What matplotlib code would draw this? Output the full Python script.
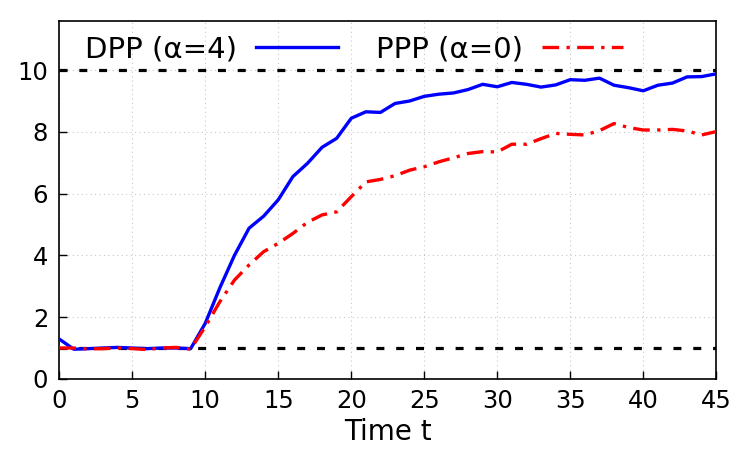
import matplotlib
matplotlib.use("Agg")
import matplotlib.pyplot as plt
import numpy as np

t = list(range(46))
dpp = [1.29, 0.96, 0.98, 1.0, 1.02, 1.0, 0.98, 1.0, 1.0, 0.98,
       1.8, 2.95, 4.0, 4.88, 5.27, 5.8, 6.55, 6.98, 7.5, 7.79,
       8.44, 8.65, 8.63, 8.92, 9.0, 9.15, 9.22, 9.26, 9.37, 9.54,
       9.46, 9.6, 9.54, 9.45, 9.52, 9.69, 9.67, 9.74, 9.51, 9.43,
       9.33, 9.51, 9.58, 9.78, 9.79, 9.88]
ppp = [1.0, 1.0, 0.97, 0.98, 1.0, 0.98, 0.95, 1.0, 1.02, 0.96,
       1.69, 2.5, 3.2, 3.69, 4.12, 4.39, 4.71, 5.07, 5.31, 5.41,
       5.9, 6.38, 6.46, 6.58, 6.76, 6.87, 7.03, 7.16, 7.3, 7.36,
       7.35, 7.6, 7.6, 7.78, 7.95, 7.92, 7.9, 8.04, 8.27, 8.14,
       8.06, 8.06, 8.08, 8.03, 7.9, 8.01]
ref_lines = [10, 1]
labels = ["DPP (α=4)", "PPP (α=0)"]
xticks = [0, 5, 10, 15, 20, 25, 30, 35, 40, 45]
yticks = [0, 2, 4, 6, 8, 10]

fig = plt.figure(figsize=(7.5, 4.5), dpi=100)
ax = fig.add_axes([0.079, 0.158, 0.876, 0.796])

for y in ref_lines:
    ax.axhline(y, color="black", lw=2.3, linestyle=(0, (2.5, 3.7)), zorder=3)

ax.plot(t, dpp, color="#0000ff", lw=2.4, label=labels[0], zorder=4)
ax.plot(t, ppp, color="#ff0000", lw=2.4, linestyle=(0, (5, 2.2, 1, 2.2)), label=labels[1], zorder=4)

ax.set_xlim(0, 45)
ax.set_ylim(0, 11.6)
ax.set_xticks(xticks)
ax.set_yticks(yticks)
ax.tick_params(direction="in", labelsize=17.5, length=6, width=1, top=False, right=False)
ax.tick_params(axis="y", pad=8)
ax.tick_params(axis="x", pad=7)
ax.grid(True, color="#c8c8c8", linestyle=(0, (1, 3)), lw=0.8)
ax.set_xlabel("Time t", fontsize=20, labelpad=4)
for s in ax.spines.values():
    s.set_linewidth(1.2)

ax.legend(loc="upper left", ncol=2, frameon=False, fontsize=21,
          markerfirst=False, handlelength=2.8, columnspacing=1.3,
          bbox_to_anchor=(0.017, 1.0), borderaxespad=0.1, handletextpad=0.65)

fig.savefig("out.png", dpi=100)
